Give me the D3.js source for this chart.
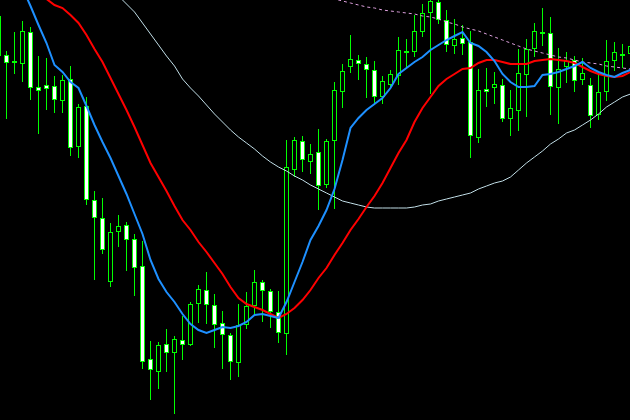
<!DOCTYPE html>
<html><head><meta charset="utf-8">
<script src="https://cdn.jsdelivr.net/npm/d3@7"></script>
<style>html,body{margin:0;padding:0;background:#000;overflow:hidden}svg{display:block}</style>
</head><body><svg id="chart" width="630" height="420"></svg>
<script>
const open = [
1.2945,1.2945,1.2938,1.2937,1.2968,1.2913,1.2915,1.2914,1.2900,1.2921,
1.2854,1.2894,1.2800,1.2782,1.2719,1.2769,1.2775,1.2761,1.2734,1.2641,
1.2629,1.2656,1.2648,1.2660,1.2656,1.2697,1.2710,1.2695,1.2677,1.2665,
1.2638,1.2676,1.2695,1.2718,1.2709,1.2688,1.2667,1.2831,1.2859,1.2839,
1.2848,1.2816,1.2860,1.2909,1.2934,1.2940,1.2936,1.2930,1.2904,1.2916,
1.2925,1.2948,1.2949,1.2969,1.2988,1.2998,1.2980,1.2955,1.2962,1.2958,
1.2863,1.2911,1.2913,1.2915,1.2882,1.2890,1.2926,1.2952,1.2967,1.2967,
1.2913,1.2934,1.2940,1.2921,1.2915,1.2886,1.2909,1.2940,1.2945,1.2947];
const high = [
1.2984,1.2949,1.2968,1.2979,1.2973,1.2944,1.2942,1.2924,1.2925,1.2934,
1.2896,1.2903,1.2809,1.2802,1.2777,1.2785,1.2778,1.2766,1.2759,1.2659,
1.2658,1.2671,1.2664,1.2684,1.2698,1.2715,1.2728,1.2706,1.2689,1.2667,
1.2696,1.2708,1.2730,1.2720,1.2711,1.2709,1.2860,1.2863,1.2864,1.2856,
1.2871,1.2861,1.2918,1.2936,1.2965,1.2945,1.2943,1.2939,1.2924,1.2930,
1.2963,1.2961,1.2985,1.2996,1.3002,1.3001,1.2990,1.2981,1.2975,1.2969,
1.2931,1.2932,1.2928,1.2921,1.2910,1.2951,1.2961,1.2977,1.2992,1.2983,
1.2952,1.2948,1.2944,1.2942,1.2922,1.2925,1.2960,1.2958,1.2956,1.2958];
const low = [
1.2945,1.2882,1.2927,1.2919,1.2901,1.2867,1.2891,1.2888,1.2888,1.2845,
1.2843,1.2796,1.2721,1.2747,1.2714,1.2754,1.2730,1.2705,1.2632,1.2601,
1.2612,1.2629,1.2587,1.2641,1.2655,1.2678,1.2677,1.2653,1.2632,1.2621,
1.2624,1.2672,1.2687,1.2679,1.2673,1.2658,1.2646,1.2824,1.2829,1.2827,
1.2791,1.2813,1.2792,1.2893,1.2928,1.2921,1.2903,1.2897,1.2897,1.2913,
1.2916,1.2933,1.2944,1.2964,1.2907,1.2977,1.2949,1.2947,1.2946,1.2843,
1.2858,1.2894,1.2897,1.2879,1.2865,1.2870,1.2884,1.2944,1.2955,1.2886,
1.2877,1.2918,1.2909,1.2916,1.2873,1.2881,1.2900,1.2930,1.2933,1.2940];
const close = [
1.2984,1.2938,1.2939,1.2969,1.2913,1.2910,1.2912,1.2901,1.2920,1.2853,
1.2893,1.2801,1.2783,1.2751,1.2768,1.2774,1.2761,1.2733,1.2639,1.2631,
1.2655,1.2648,1.2661,1.2656,1.2696,1.2711,1.2696,1.2676,1.2666,1.2639,
1.2675,1.2694,1.2718,1.2710,1.2689,1.2668,1.2833,1.2860,1.2841,1.2846,
1.2815,1.2859,1.2910,1.2929,1.2941,1.2937,1.2931,1.2904,1.2919,1.2926,
1.2950,1.2949,1.2969,1.2987,1.2999,1.2981,1.2956,1.2961,1.2957,1.2865,
1.2910,1.2909,1.2916,1.2882,1.2892,1.2927,1.2951,1.2969,1.2968,1.2914,
1.2931,1.2939,1.2920,1.2927,1.2885,1.2908,1.2939,1.2948,1.2946,1.2954];

// moving averages (null = not drawn)
const maFast = [
null,null,null,1.3012,1.2994,1.2975,1.2957,1.2935,1.2928,1.2918,
1.2912,1.2894,1.2875,1.2858,1.2842,1.2824,1.2806,1.2786,1.2766,1.2740,
1.2721,1.2708,1.2698,1.2686,1.2676,1.2670,1.2667,1.2670,1.2673,1.2672,
1.2674,1.2678,1.2685,1.2686,1.2684,1.2682,1.2698,1.2718,1.2738,1.2760,
1.2774,1.2790,1.2811,1.2840,1.2872,1.2882,1.2890,1.2896,1.2902,1.2912,
1.2926,1.2932,1.2938,1.2943,1.2950,1.2955,1.2960,1.2964,1.2968,1.2957,
1.2954,1.2948,1.2939,1.2926,1.2918,1.2913,1.2913,1.2914,1.2925,1.2926,
1.2928,1.2931,1.2934,1.2938,1.2932,1.2928,1.2925,1.2923,1.2927,1.2930];
const maMid = [
null,null,null,null,1.3013,1.3007,1.3001,1.2995,1.2992,1.2985,
1.2977,1.2965,1.2951,1.2938,1.2922,1.2906,1.2890,1.2873,1.2855,1.2837,
1.2823,1.2809,1.2794,1.2780,1.2770,1.2758,1.2748,1.2737,1.2726,1.2713,
1.2702,1.2696,1.2693,1.2690,1.2686,1.2682,1.2686,1.2692,1.2700,1.2710,
1.2722,1.2732,1.2745,1.2757,1.2770,1.2781,1.2793,1.2804,1.2817,1.2832,
1.2847,1.2860,1.2878,1.2892,1.2903,1.2914,1.2921,1.2926,1.2931,1.2932,
1.2937,1.2940,1.2940,1.2938,1.2936,1.2936,1.2936,1.2939,1.2940,1.2941,
1.2940,1.2939,1.2937,1.2933,1.2929,1.2926,1.2924,1.2923,1.2924,1.2928];
const maSlow = [
null,null,null,null,null,null,null,null,null,null,
null,null,null,null,1.3012,1.3004,1.2996,1.2988,1.2977,1.2966,
1.2955,1.2944,1.2934,1.2921,1.2912,1.2904,1.2895,1.2886,1.2878,1.2870,
1.2863,1.2857,1.2851,1.2844,1.2838,1.2833,1.2829,1.2824,1.2820,1.2815,
1.2811,1.2807,1.2803,1.2799,1.2797,1.2795,1.2793,1.2792,1.2792,1.2792,
1.2792,1.2792,1.2793,1.2795,1.2796,1.2799,1.2801,1.2803,1.2805,1.2807,
1.2811,1.2814,1.2817,1.2819,1.2823,1.2830,1.2837,1.2843,1.2849,1.2856,
1.2861,1.2867,1.2870,1.2875,1.2880,1.2886,1.2893,1.2898,1.2903,1.2906];
const maTrend = [
null,null,null,null,null,null,null,null,null,null,
null,null,null,null,null,null,null,null,null,null,
null,null,null,null,null,null,null,null,null,null,
null,null,null,null,null,null,null,null,null,null,
null,1.3003,1.3001,1.2999,1.2997,1.2995,1.2993,1.2992,1.2990,1.2989,
1.2988,1.2987,1.2986,1.2984,1.2983,1.2981,1.2978,1.2976,1.2973,1.2971,
1.2969,1.2966,1.2963,1.2960,1.2957,1.2954,1.2951,1.2949,1.2947,1.2945,
1.2943,1.2942,1.2940,1.2938,1.2937,1.2936,1.2934,1.2933,1.2932,1.2931];

const W = 630, H = 420;
const svg = d3.select('#chart');
svg.append('rect').attr('width', W).attr('height', H).attr('fill', '#000');

const x = d3.scaleLinear().domain([0, 79]).range([-1.5, 630.5]);
const y = d3.scaleLinear().domain([1.2580, 1.3000]).range([420, 0]);
const idx = d3.range(open.length);

const gC = svg.append('g');
gC.selectAll('line.wick').data(idx).join('line').attr('class', 'wick')
  .attr('x1', i => x(i)).attr('x2', i => x(i))
  .attr('y1', i => Math.round(y(high[i])))
  .attr('y2', i => Math.round(y(low[i])) + 1)
  .attr('stroke', '#00ff00').attr('stroke-width', 1);

gC.selectAll('rect.body').data(idx).join('rect').attr('class', 'body')
  .attr('x', i => x(i) - 2).attr('width', 4)
  .attr('y', i => Math.round(y(Math.max(open[i], close[i]))) + 0.5)
  .attr('height', i => Math.max(1, Math.round(Math.abs(y(open[i]) - y(close[i])))))
  .attr('fill', i => close[i] < open[i] ? '#ffffff' : '#000000')
  .attr('stroke', '#00ff00').attr('stroke-width', 1);

function mkLine(arr) {
  return d3.line().defined(d => d != null).x((d, i) => x(i)).y(d => y(d))(arr);
}
svg.append('path').attr('d', mkLine(maSlow)).attr('fill', 'none')
  .attr('stroke', '#c0dde6').attr('stroke-width', 1);
svg.append('path').attr('d', mkLine(maTrend)).attr('fill', 'none')
  .attr('stroke', '#dda0dd').attr('stroke-width', 1).attr('stroke-dasharray', '3,3');
svg.append('path').attr('d', mkLine(maMid)).attr('fill', 'none')
  .attr('stroke', '#ff0000').attr('stroke-width', 2);
svg.append('path').attr('d', mkLine(maFast)).attr('fill', 'none')
  .attr('stroke', '#1e90ff').attr('stroke-width', 2);
</script>
</body></html>
